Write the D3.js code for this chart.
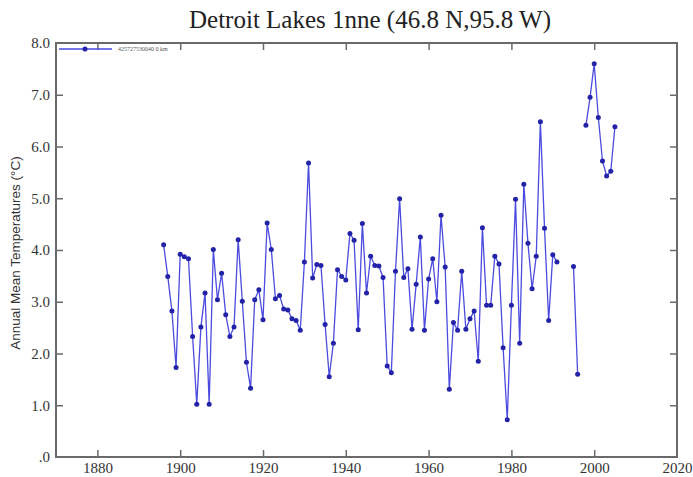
<!DOCTYPE html>
<html>
<head>
<meta charset="utf-8">
<script src="https://cdn.jsdelivr.net/npm/d3@7"></script>
<style>
    body { margin: 0; background: #fff; }
    .frame { fill: none; stroke: #6a6a6a; stroke-width: 2; }
    .tick line { stroke: #6a6a6a; stroke-width: 1.5; }
    .tickLabel { font-family: "Liberation Serif", serif; font-size: 15px; fill: #333; }
</style>
</head>
<body>
<svg class="chart"></svg>
<script>
var years = [
    1896, 1897, 1898, 1899, 1900, 1901, 1902, 1903, 1904, 1905,
    1906, 1907, 1908, 1909, 1910, 1911, 1912, 1913, 1914, 1915,
    1916, 1917, 1918, 1919, 1920, 1921, 1922, 1923, 1924, 1925,
    1926, 1927, 1928, 1929, 1930, 1931, 1932, 1933, 1934, 1935,
    1936, 1937, 1938, 1939, 1940, 1941, 1942, 1943, 1944, 1945,
    1946, 1947, 1948, 1949, 1950, 1951, 1952, 1953, 1954, 1955,
    1956, 1957, 1958, 1959, 1960, 1961, 1962, 1963, 1964, 1965,
    1966, 1967, 1968, 1969, 1970, 1971, 1972, 1973, 1974, 1975,
    1976, 1977, 1978, 1979, 1980, 1981, 1982, 1983, 1984, 1985,
    1986, 1987, 1988, 1989, 1990, 1991, 1992, 1993, 1994, 1995,
    1996, 1997, 1998, 1999, 2000, 2001, 2002, 2003, 2004, 2005
];
// annual mean temperature, null = missing year
var temps = [
    4.10, 3.49, 2.82, 1.73, 3.92, 3.87, 3.83, 2.33, 1.02, 2.51,
    3.17, 1.02, 4.01, 3.04, 3.55, 2.75, 2.33, 2.51, 4.20, 3.01,
    1.83, 1.33, 3.04, 3.23, 2.65, 4.52, 4.01, 3.06, 3.12, 2.86,
    2.84, 2.67, 2.64, 2.45, 3.77, 5.68, 3.46, 3.72, 3.70, 2.56,
    1.55, 2.20, 3.62, 3.49, 3.42, 4.32, 4.19, 2.46, 4.51, 3.17,
    3.88, 3.70, 3.69, 3.47, 1.76, 1.63, 3.59, 4.99, 3.47, 3.64,
    2.47, 3.34, 4.25, 2.45, 3.44, 3.83, 3.00, 4.67, 3.67, 1.31,
    2.60, 2.45, 3.59, 2.47, 2.67, 2.82, 1.85, 4.43, 2.93, 2.93,
    3.88, 3.73, 2.11, 0.72, 2.93, 4.98, 2.20, 5.27, 4.13, 3.25,
    3.88, 6.48, 4.42, 2.64, 3.91, 3.77, null, null, null, 3.68,
    1.60, null, 6.41, 6.95, 7.60, 6.56, 5.72, 5.43, 5.52, 6.38
];
var xTickValues = [1880, 1900, 1920, 1940, 1960, 1980, 2000, 2020];
var xTickLabels = ["1880", "1900", "1920", "1940", "1960", "1980", "2000", "2020"];
var yTickValues = [0, 1, 2, 3, 4, 5, 6, 7, 8];
var yTickLabels = [".0", "1.0", "2.0", "3.0", "4.0", "5.0", "6.0", "7.0", "8.0"];
var title = "Detroit Lakes 1nne (46.8 N,95.8 W)";
var yTitle = "Annual Mean Temperatures (\u00b0C)";
var legendLabel = "425727530040 0 km";

var lineColor = "#4b4be0";
var dotColor = "#2323a8";

drawChart();

function drawChart() {
    var outerSize = {width: 693, height: 477};
    var plot = {left: 56, right: 677, top: 43, bottom: 457};
    var tickLength = 7;

    var svg = d3.select(".chart")
            .attr("width", outerSize.width)
            .attr("height", outerSize.height);

    var xRange = d3.scaleLinear()
            .domain([1870, 2020])
            .range([plot.left, plot.right]);
    var yRange = d3.scaleLinear()
            .domain([0, 8])
            .range([plot.bottom, plot.top]);

    svg.append("text")
            .attr("x", 370)
            .attr("y", 28)
            .style("text-anchor", "middle")
            .style("font-family", "Liberation Serif, serif")
            .style("font-size", "25px")
            .style("fill", "#222")
            .text(title);

    // inward ticks on all four sides
    var xTickFormat = function (d, i) { return xTickLabels[i]; };
    var yTickFormat = function (d, i) { return yTickLabels[i]; };

    var bottomAxis = svg.append("g")
            .attr("transform", "translate(0," + plot.bottom + ")")
            .call(d3.axisBottom(xRange).tickValues(xTickValues).tickFormat(xTickFormat)
                    .tickSizeInner(-tickLength).tickSizeOuter(0).tickPadding(5));
    svg.append("g")
            .attr("transform", "translate(0," + plot.top + ")")
            .call(d3.axisTop(xRange).tickValues(xTickValues).tickFormat("")
                    .tickSizeInner(-tickLength).tickSizeOuter(0));
    var leftAxis = svg.append("g")
            .attr("transform", "translate(" + plot.left + ",0)")
            .call(d3.axisLeft(yRange).tickValues(yTickValues).tickFormat(yTickFormat)
                    .tickSizeInner(-tickLength).tickSizeOuter(0).tickPadding(6));
    svg.append("g")
            .attr("transform", "translate(" + plot.right + ",0)")
            .call(d3.axisRight(yRange).tickValues(yTickValues).tickFormat("")
                    .tickSizeInner(-tickLength).tickSizeOuter(0));

    svg.selectAll(".domain").remove();
    bottomAxis.selectAll("text").attr("class", "tickLabel").attr("font-size", null).attr("font-family", null);
    leftAxis.selectAll("text").attr("class", "tickLabel").attr("font-size", null).attr("font-family", null);
    // skip the edge ticks that sit on the frame
    svg.selectAll(".tick line").filter(function (d) {
        return d === 0 || d === 8 || d === 1870 || d === 2020;
    }).remove();

    svg.append("rect")
            .attr("class", "frame")
            .attr("x", plot.left)
            .attr("y", plot.top)
            .attr("width", plot.right - plot.left)
            .attr("height", plot.bottom - plot.top);

    svg.append("text")
            .attr("transform", "translate(20,253) rotate(-90)")
            .style("text-anchor", "middle")
            .style("font-family", "Liberation Sans, sans-serif")
            .style("font-size", "13.5px")
            .style("fill", "#333")
            .text(yTitle);

    var points = years.map(function (year, i) {
        return {year: year, temp: temps[i]};
    });

    var line = d3.line()
            .defined(function (d) { return d.temp !== null; })
            .x(function (d) { return xRange(d.year); })
            .y(function (d) { return yRange(d.temp); });

    svg.append("path")
            .datum(points)
            .attr("d", line)
            .attr("fill", "none")
            .attr("stroke", lineColor)
            .attr("stroke-width", 1.3);

    svg.selectAll(".dot")
            .data(points.filter(function (d) { return d.temp !== null; }))
            .enter().append("circle")
            .attr("class", "dot")
            .attr("cx", function (d) { return xRange(d.year); })
            .attr("cy", function (d) { return yRange(d.temp); })
            .attr("r", 2.5)
            .attr("fill", dotColor);

    // legend
    var legendY = 49;
    svg.append("line")
            .attr("x1", 59).attr("x2", 112)
            .attr("y1", legendY).attr("y2", legendY)
            .attr("stroke", lineColor)
            .attr("stroke-width", 1.3);
    svg.append("circle")
            .attr("cx", 85).attr("cy", legendY)
            .attr("r", 2.5)
            .attr("fill", dotColor);
    svg.append("text")
            .attr("x", 118)
            .attr("y", legendY + 2)
            .style("font-family", "Liberation Serif, serif")
            .style("font-size", "6px")
            .style("fill", "#555")
            .text(legendLabel);
}
</script>
</body>
</html>
